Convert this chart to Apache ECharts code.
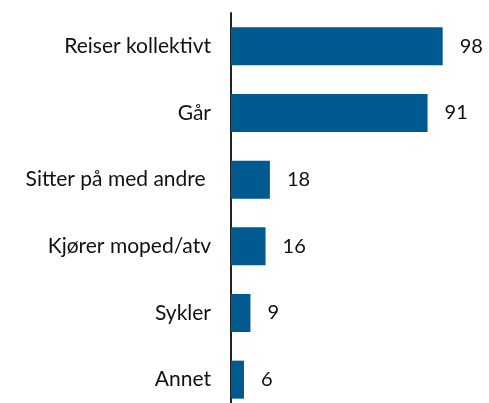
<!DOCTYPE html>
<html>
<head>
<meta charset="utf-8">
<script src="https://cdn.jsdelivr.net/npm/echarts@6/dist/echarts.min.js"></script>
<style>
  html, body { margin: 0; padding: 0; background: #fff; }
  #chart { width: 489px; height: 403px; }
</style>
</head>
<body>
<div id="chart"></div>
<script>
const categories = ['Reiser kollektivt', 'Går', 'Sitter på med andre ', 'Kjører moped/atv', 'Sykler', 'Annet']
const values = [98, 91, 18, 16, 9, 6]

const chart = echarts.init(document.getElementById('chart'))

chart.setOption({
  animation: false,
  grid: { left: 231, width: 216, top: 13, height: 400, outerBoundsMode: 'none' },
  xAxis: {
    type: 'value',
    min: 0,
    max: 100,
    show: false
  },
  yAxis: {
    type: 'category',
    inverse: true,
    data: categories,
    axisLine: { lineStyle: { color: '#222', width: 2 } },
    axisTick: { show: false },
    axisLabel: {
      color: '#111',
      fontSize: 21,
      fontFamily: 'Lato, sans-serif',
      margin: 20
    }
  },
  series: [
    {
      type: 'bar',
      data: values,
      barWidth: 38,
      itemStyle: { color: '#00598f' },
      label: {
        show: true,
        position: 'right',
        distance: 17,
        color: '#111',
        fontSize: 20,
        fontFamily: 'Lato, sans-serif'
      }
    }
  ]
})
</script>
</body>
</html>
